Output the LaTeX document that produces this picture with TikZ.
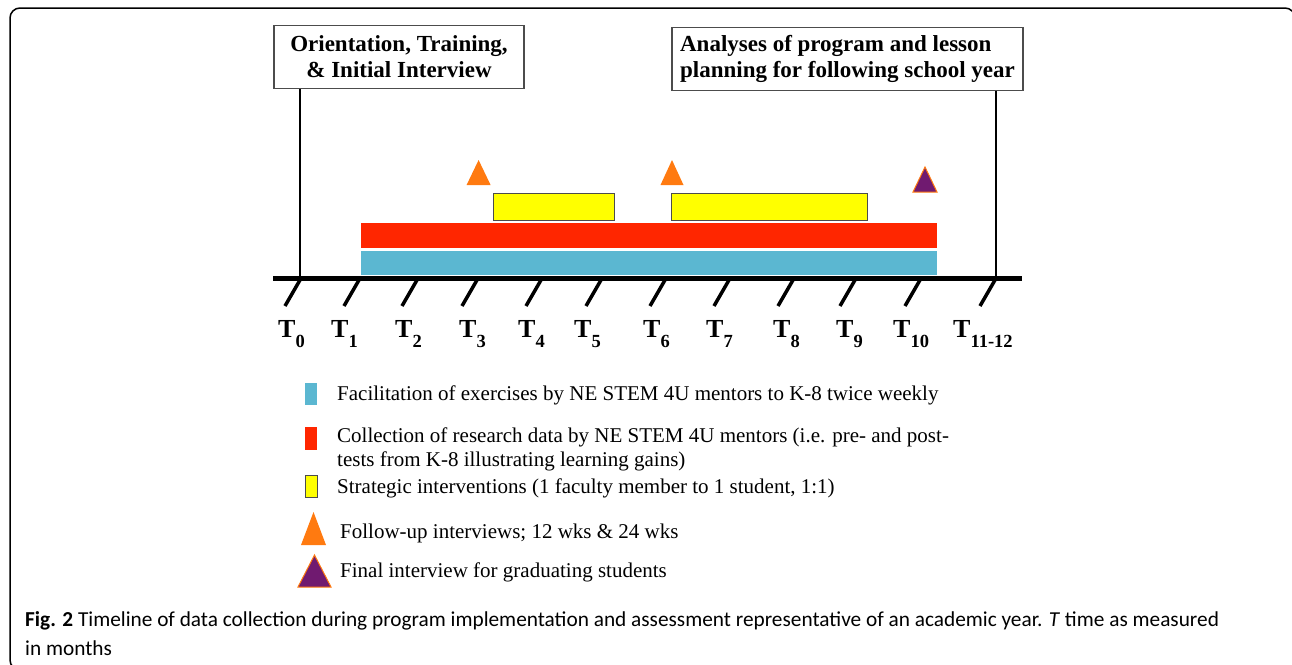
\documentclass[tikz,border=0pt]{standalone}
\usepackage{fontspec}
\setmainfont{Liberation Serif}
\newfontfamily\capfont{Carlito}
\usetikzlibrary{positioning}

\definecolor{facblue}{RGB}{91,183,209}
\definecolor{colred}{RGB}{255,38,0}
\definecolor{stratyellow}{RGB}{255,255,0}
\definecolor{folorange}{RGB}{255,122,16}
\definecolor{finpurple}{RGB}{112,26,112}

\begin{document}
\begin{tikzpicture}[x=1pt, y=-1pt,
        infobox/.style={draw=black!70, line width=1.2pt, minimum height=63pt, inner sep=0pt, font=\fontsize{23}{26}\selectfont\bfseries},
        tick/.style={line width=3.5pt},
        tlabel/.style={anchor=base west, inner sep=0pt, font=\fontsize{26}{26}\selectfont\bfseries},
        legtext/.style={anchor=west, inner sep=0pt, font=\fontsize{21}{24}\selectfont, align=left}
    ]
    \useasboundingbox (0,0) rectangle (1292,664);
    
    % Frame
    \draw[line width=1.5pt, rounded corners=10pt] (10,8) rectangle (1295,670);
    
    % Boxes
    \node[infobox, minimum width=250pt, align=center] at (399,57) (orient) {Orientation, Training,\\\& Initial Interview};
    \node[infobox, minimum width=351pt, align=left] at (847.5,59) (analyses) {Analyses of program and lesson\\planning for following school year};
    
    % Timeline
    \coordinate (axl) at (273,278);
    \coordinate (axr) at (1022,278);
    \coordinate (t0) at (300,278);
    \coordinate (t12) at (996,278);
    \draw[line width=1.5pt] (orient.south -| t0) -- (t0);
    \draw[line width=1.5pt] (analyses.south -| t12) -- (t12);
    
    % Bars
    \fill[facblue] (360.5,251) rectangle (937,275);
    \fill[colred] (360.5,223) rectangle (937,248);
    \filldraw[fill=stratyellow, draw=black!70, line width=1pt] (493.7,193) rectangle (614.6,220);
    \filldraw[fill=stratyellow, draw=black!70, line width=1pt] (671.7,193) rectangle (867,220);
    
    % Interviews
    \fill[folorange] (466.6,185) -- (490.6,185) -- (478.6,160) -- cycle;
    \fill[folorange] (660.5,185) -- (683.5,185) -- (672,160) -- cycle;
    \filldraw[fill=finpurple, draw=folorange, line width=1pt] (913,192) -- (937,192) -- (925,167) -- cycle;
    
    \draw[line width=5pt] (axl) -- (axr);
    
    % Ticks and labels
    \foreach \x/\lx/\lab in {300/278/0, 359/331/1, 417/395/2, 477/459/3, 541/518/4, 601/574/5, 665/643/6, 729/706/7, 793/773/8, 855/836/9, 920/893/10, 995/953/11-12} {
        \draw[tick] (\x,280) -- ++(-15,26);
        \node[tlabel] at (\lx,337) {T\raisebox{-10pt}{\fontsize{18.5}{18.5}\selectfont\lab}};
    }
    
    % Legend
    \fill[facblue] (305,383) rectangle (317,405);
    \node[legtext] at (337,395) (facl) {Facilitation of exercises by NE STEM 4U mentors to K-8 twice weekly};
    \fill[colred] (305,427) rectangle (317,450);
    \node[legtext] at (337,449) (coll) {Collection of research data by NE STEM 4U mentors (i.e. pre- and post-\\tests from K-8 illustrating learning gains)};
    \filldraw[fill=stratyellow, draw=black!70, line width=1pt] (305,475) rectangle (317,497);
    \node[legtext] at (337,488) (stratl) {Strategic interventions (1 faculty member to 1 student, 1:1)};
    \fill[folorange] (301,545) -- (326,545) -- (313.5,512) -- cycle;
    \node[legtext] at (340,533) (foll) {Follow-up interviews; 12 wks \& 24 wks};
    \filldraw[fill=finpurple, draw=folorange, line width=1pt] (298,587) -- (331,587) -- (314.5,555) -- cycle;
    \node[legtext] at (340,572) (finl) {Final interview for graduating students};
    
    % Caption
    \node[anchor=north west, inner sep=0pt, align=left, font=\capfont\fontsize{21.3}{29}\selectfont] at (25,611) (caption) {\textbf{Fig. 2} Timeline of data collection during program implementation and assessment representative of an academic year. \textit{T} time as measured\\in months};
    
\end{tikzpicture}
\end{document}
